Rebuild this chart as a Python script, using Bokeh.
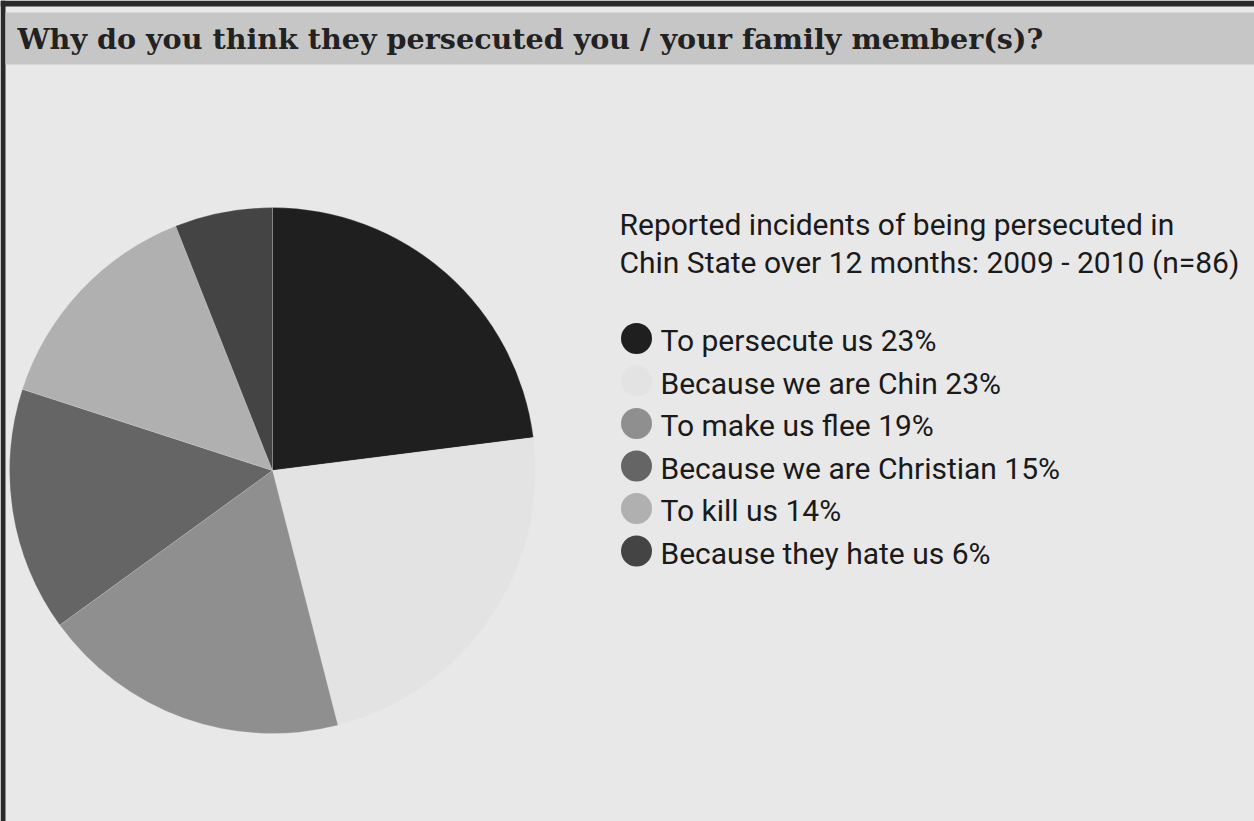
from bokeh.plotting import figure
from bokeh.models import Range1d
from bokeh.core.properties import value
from bokeh.embed import file_html
from bokeh.resources import INLINE
import math

# ---- data ----
reasons = ["To persecute us", "Because we are Chin", "To make us flee",
           "Because we are Christian", "To kill us", "Because they hate us"]
percents = [23, 23, 19, 15, 14, 6]
colors = ["#1f1f1f", "#e3e3e3", "#8f8f8f", "#656565", "#b0b0b0", "#444444"]
title_text = "Why do you think they persecuted you / your family member(s)?"
subtitle_lines = ["Reported incidents of being persecuted in",
                  "Chin State over 12 months: 2009 - 2010 (n=86)"]

W, H = 1254, 821

def Y(px):
    return H - px

p = figure(width=W, height=H, output_backend="svg", toolbar_location=None,
           x_range=Range1d(0, W), y_range=Range1d(0, H), min_border=0)
p.axis.visible = False
p.grid.visible = False
p.outline_line_color = None
p.background_fill_color = "#e8e8e8"
p.border_fill_color = "#e8e8e8"

# frame edges (dark) on top and left
p.quad(left=0, right=W, top=Y(0), bottom=Y(6), fill_color="#2a2a2a", line_color=None)
p.quad(left=0, right=5, top=Y(0), bottom=Y(H), fill_color="#2a2a2a", line_color=None)

# title bar
p.quad(left=5, right=W, top=Y(12), bottom=Y(64), fill_color="#c6c6c6", line_color=None)
p.text(x=[17], y=[Y(38)], text=[title_text], text_font=value("DejaVu Serif"),
       text_font_style="bold", text_font_size="28.6px", text_color="#222222",
       text_baseline="middle", text_align="left")

# pie
cx, cy, r = 272, 470, 263
total = sum(percents)
starts, ends = [], []
a = math.pi / 2
for v in percents:
    starts.append(a - 2 * math.pi * v / total)
    ends.append(a)
    a -= 2 * math.pi * v / total
p.wedge(x=[cx] * len(percents), y=[Y(cy)] * len(percents), radius=r,
        start_angle=starts, end_angle=ends, fill_color=colors,
        line_color="#e8e8e8", line_width=0.6, line_alpha=0.35)

# subtitle
sub_x = 619
p.text(x=[sub_x] * 2, y=[Y(224), Y(262)], text=subtitle_lines, text_font=value("Roboto"),
       text_font_size="30px", text_color="#1a1a1a", text_baseline="middle")

# legend
row0, step = 338, 42.5
ys = [Y(row0 + i * step) for i in range(len(reasons))]
p.scatter(x=[636] * len(reasons), y=ys, size=31, marker="circle",
          fill_color=colors, line_color=None)
labels = [f"{t} {v}%" for t, v in zip(reasons, percents)]
p.text(x=[660] * len(reasons), y=[y - 2 for y in ys], text=labels, text_font=value("Roboto"),
       text_font_size="30px", text_color="#1a1a1a", text_baseline="middle")

open("out.html", "w").write(file_html(p, INLINE))
